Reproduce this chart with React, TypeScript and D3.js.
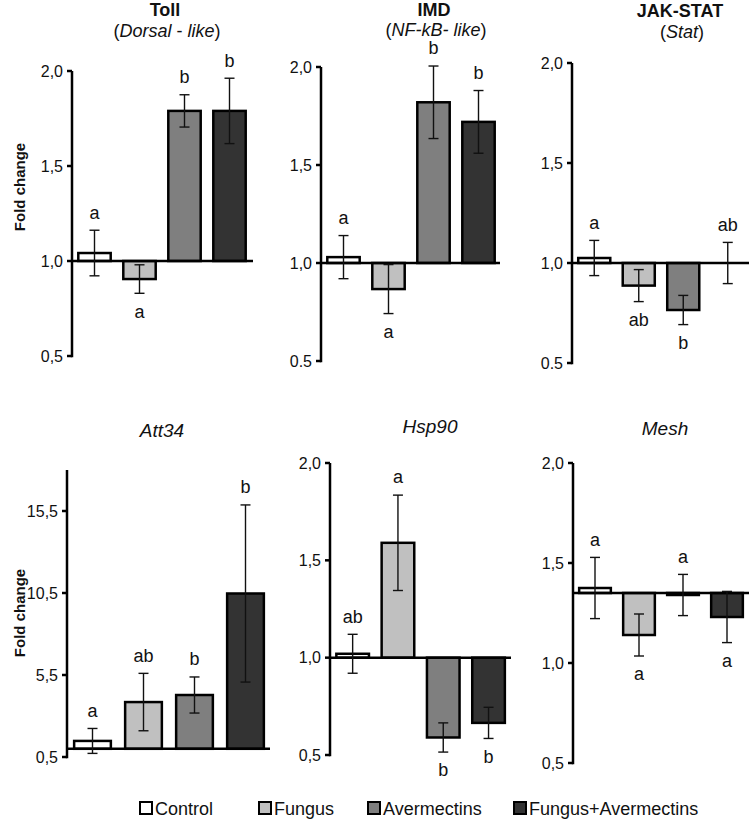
import React from "react";
import * as d3 from "d3";

const treatments = ["Control", "Fungus", "Avermectins", "Fungus+Avermectins"];
const fills = ["#ffffff", "#c0c0c0", "#7f7f7f", "#333333"];

const tollMeans = [1.042, 0.905, 1.79, 1.79];
const tollSE = [0.12, 0.075, 0.085, 0.172];
const tollLetters = ["a", "a", "b", "b"];
const tollLetterSide = ["above", "below", "above", "above"];

const imdMeans = [1.03, 0.867, 1.82, 1.72];
const imdSE = [0.11, 0.125, 0.185, 0.16];
const imdLetters = ["a", "a", "b", "b"];
const imdLetterSide = ["above", "below", "above", "above"];

const jakMeans = [1.025, 0.887, 0.765, 1.0];
const jakSE = [0.088, 0.08, 0.073, 0.103];
const jakLetters = ["a", "ab", "b", "ab"];
const jakLetterSide = ["above", "below", "below", "above"];

const attMeans = [1.48, 3.85, 4.28, 10.47];
const attSE = [0.76, 1.75, 1.1, 5.4];
const attLetters = ["a", "ab", "b", "b"];
const attLetterSide = ["above", "above", "above", "above"];

const hspMeans = [1.02, 1.59, 0.59, 0.665];
const hspSE = [0.1, 0.245, 0.075, 0.08];
const hspLetters = ["ab", "a", "b", "b"];
const hspLetterSide = ["above", "above", "below", "below"];

const meshMeans = [1.375, 1.14, 1.34, 1.23];
const meshSE = [0.153, 0.105, 0.103, 0.128];
const meshLetters = ["a", "a", "a", "a"];
const meshLetterSide = ["above", "below", "above", "below"];

const ticksSmall = [0.5, 1.0, 1.5, 2.0];
const ticksSmallLabels = ["0,5", "1,0", "1,5", "2,0"];
const ticksSmallLabelsDot = ["0.5", "1,0", "1,5", "2,0"];
const ticksAtt = [0.5, 5.5, 10.5, 15.5];
const ticksAttLabels = ["0,5", "5,5", "10,5", "15,5"];

type Title = { text: string; italic?: boolean; bold?: boolean }[];

type Panel = {
  means: number[];
  se: number[];
  letters: string[];
  sides: string[];
  ticks: number[];
  tickLabels: string[];
  baseline: number;
  domain: [number, number];
  axisTop: number;
  yRange: [number, number];
  axisX: number;
  step: number;
  rightX: number;
  titleX: number;
  title: Title;
  titleY: number;
  subtitle?: Title;
  subtitleY?: number;
  titleSize: number;
};

const panels: Panel[] = [
  {
    means: tollMeans, se: tollSE, letters: tollLetters, sides: tollLetterSide,
    ticks: ticksSmall, tickLabels: ticksSmallLabels, baseline: 1.0,
    domain: [0.5, 2.0], axisTop: 2.0, yRange: [356, 71],
    axisX: 72, step: 45, rightX: 253, titleX: 165,
    title: [{ text: "Toll", bold: true }], titleY: 16,
    subtitle: [{ text: "(" }, { text: "Dorsal", italic: true }, { text: " - " }, { text: "like", italic: true }, { text: ")" }],
    subtitleY: 37, titleSize: 18,
  },
  {
    means: imdMeans, se: imdSE, letters: imdLetters, sides: imdLetterSide,
    ticks: ticksSmall, tickLabels: ticksSmallLabelsDot, baseline: 1.0,
    domain: [0.5, 2.0], axisTop: 2.0, yRange: [361, 67],
    axisX: 321, step: 45, rightX: 500, titleX: 434,
    title: [{ text: "IMD", bold: true }], titleY: 16,
    subtitle: [{ text: "(" }, { text: "NF-kB-", italic: true }, { text: " " }, { text: "like", italic: true }, { text: ")" }],
    subtitleY: 36, titleSize: 18,
  },
  {
    means: jakMeans, se: jakSE, letters: jakLetters, sides: jakLetterSide,
    ticks: ticksSmall, tickLabels: ticksSmallLabelsDot, baseline: 1.0,
    domain: [0.5, 2.0], axisTop: 2.0, yRange: [363, 63],
    axisX: 572, step: 44.5, rightX: 749, titleX: 680,
    title: [{ text: "JAK-STAT", bold: true }], titleY: 17,
    subtitle: [{ text: "(" }, { text: "Stat", italic: true }, { text: ")" }],
    subtitleY: 38, titleSize: 18,
  },
  {
    means: attMeans, se: attSE, letters: attLetters, sides: attLetterSide,
    ticks: ticksAtt, tickLabels: ticksAttLabels, baseline: 1.0,
    domain: [0.5, 15.5], axisTop: 18.0, yRange: [757, 511],
    axisX: 67, step: 51, rightX: 270, titleX: 162,
    title: [{ text: "Att34", italic: true }], titleY: 437, titleSize: 19,
  },
  {
    means: hspMeans, se: hspSE, letters: hspLetters, sides: hspLetterSide,
    ticks: ticksSmall, tickLabels: ticksSmallLabels, baseline: 1.0,
    domain: [0.5, 2.0], axisTop: 2.0, yRange: [755, 463],
    axisX: 330, step: 45.3, rightX: 511, titleX: 430,
    title: [{ text: "Hsp90", italic: true }], titleY: 433, titleSize: 19,
  },
  {
    means: meshMeans, se: meshSE, letters: meshLetters, sides: meshLetterSide,
    ticks: ticksSmall, tickLabels: ticksSmallLabels, baseline: 1.35,
    domain: [0.5, 2.0], axisTop: 2.0, yRange: [763, 463],
    axisX: 573, step: 44, rightX: 749, titleX: 665,
    title: [{ text: "Mesh", italic: true }], titleY: 435, titleSize: 19,
  },
];

const FONT = "'Liberation Sans', Arial, Helvetica, sans-serif";

function PanelView({ p }: { p: Panel }) {
  const y = d3.scaleLinear().domain(p.domain).range(p.yRange);
  const x = d3
    .scaleBand<string>()
    .domain(treatments)
    .range([p.axisX, p.axisX + p.step * treatments.length])
    .paddingInner(0.28)
    .paddingOuter(0.14);
  const bw = x.bandwidth();
  const y0 = y(p.baseline);
  return (
    <g>
      <text x={p.titleX} y={p.titleY} textAnchor="middle" fontSize={p.titleSize} fontFamily={FONT} fill="#111">
        {p.title.map((s, i) => (
          <tspan key={i} fontStyle={s.italic ? "italic" : "normal"} fontWeight={s.bold ? "bold" : "normal"}>{s.text}</tspan>
        ))}
      </text>
      {p.subtitle && (
        <text x={p.titleX + 2} y={p.subtitleY} textAnchor="middle" fontSize={18} fontFamily={FONT} fill="#111" xmlSpace="preserve">
          {p.subtitle.map((s, i) => (
            <tspan key={i} fontStyle={s.italic ? "italic" : "normal"}>{s.text}</tspan>
          ))}
        </text>
      )}
      {treatments.map((t, i) => {
        const v = p.means[i];
        const yv = y(v);
        return (
          <rect key={t} x={x(t)!} y={Math.min(yv, y0)} width={bw} height={Math.abs(yv - y0)}
            fill={fills[i]} stroke="#000" strokeWidth={2.5} />
        );
      })}
      <line x1={p.axisX} x2={p.rightX} y1={y0} y2={y0} stroke="#000" strokeWidth={2.5} />
      {treatments.map((t, i) => {
        const cx = x(t)! + bw / 2;
        const hi = y(p.means[i] + p.se[i]);
        const lo = y(p.means[i] - p.se[i]);
        return (
          <g key={t} stroke="#111" strokeWidth={1.4}>
            <line x1={cx} x2={cx} y1={hi} y2={lo} />
            <line x1={cx - 5} x2={cx + 5} y1={hi} y2={hi} />
            <line x1={cx - 5} x2={cx + 5} y1={lo} y2={lo} />
          </g>
        );
      })}
      {treatments.map((t, i) => {
        const cx = x(t)! + bw / 2;
        const up = p.sides[i] === "above";
        const yy = up ? y(p.means[i] + p.se[i]) - 18 : y(p.means[i] - p.se[i]) + 18;
        return (
          <text key={t} x={cx} y={yy} dy="0.35em" textAnchor="middle" fontSize={18} fontFamily={FONT} fill="#111">
            {p.letters[i]}
          </text>
        );
      })}
      <line x1={p.axisX} x2={p.axisX} y1={y(p.axisTop)} y2={y(p.domain[0]) + 1.25} stroke="#000" strokeWidth={2.5} />
      {p.ticks.map((tv, i) => (
        <g key={tv}>
          <line x1={p.axisX - 5} x2={p.axisX} y1={y(tv)} y2={y(tv)} stroke="#000" strokeWidth={2.5} />
          <text x={p.axisX - 9} y={y(tv)} dy="0.35em" textAnchor="end" fontSize={16} fontFamily={FONT} fill="#111">
            {p.tickLabels[i]}
          </text>
        </g>
      ))}
    </g>
  );
}

const legendX = [139, 258, 367, 513];

export default function App() {
  return (
    <svg width={749} height={819} style={{ position: "absolute", left: 0, top: 0, background: "#fff" }}>
      <rect x={0} y={0} width={749} height={819} fill="#fff" />
      {panels.map((p, i) => (
        <PanelView key={i} p={p} />
      ))}
      <text transform="translate(25,187) rotate(-90)" textAnchor="middle" fontSize={15} fontWeight="bold" fontFamily={FONT} fill="#111">
        Fold change
      </text>
      <text transform="translate(25,613) rotate(-90)" textAnchor="middle" fontSize={15} fontWeight="bold" fontFamily={FONT} fill="#111">
        Fold change
      </text>
      {treatments.map((t, i) => (
        <g key={t}>
          <rect x={legendX[i] + 1} y={802} width={12} height={12} fill={fills[i]} stroke="#000" strokeWidth={2} />
          <text x={legendX[i] + 16} y={815} fontSize={18} fontFamily={FONT} fill="#111">{t}</text>
        </g>
      ))}
    </svg>
  );
}
